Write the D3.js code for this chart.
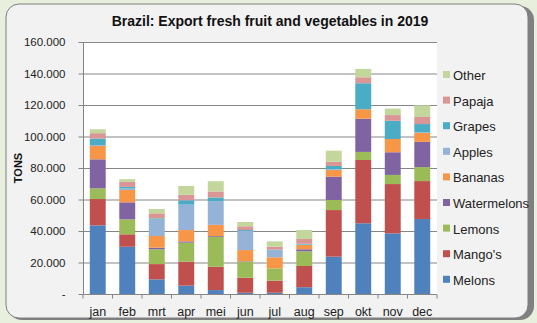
<!DOCTYPE html>
<html lang="en">
<head>
  <script src="https://d3js.org/d3.v7.min.js"></script>
  <style>
    body { margin: 0; background: #e8efdc; }
    svg { display: block; font-family: Arial, "Liberation Sans", sans-serif; }
  </style>
</head>
<body>
<svg width="537" height="323"></svg>
<script>
  // months (Dutch abbreviations) and series, bottom of the stack first
  var months = ["jan", "feb", "mrt", "apr", "mei", "jun", "jul", "aug", "sep", "okt", "nov", "dec"];
  var series = ["Melons", "Mango's", "Lemons", "Watermelons", "Bananas", "Apples", "Grapes", "Papaja", "Other"];
  var colors = ["#4f81bd", "#c0504d", "#9bbb59", "#8064a2", "#f79646", "#95b3d7", "#4bacc6", "#d99694", "#c3d69b"];
  var yTicks = [0, 20000, 40000, 60000, 80000, 100000, 120000, 140000, 160000];

  // tons per month
  var melons      = [43600, 30000,  9300,  5300,  2500,   800,   800,  4300, 23700, 44900, 38500, 47600];
  var mangos      = [16700,  7900,  9700, 15200, 14800,  9500,  7700, 13500, 29600, 40200, 31300, 24100];
  var lemons      = [ 6800,  9500,  9400, 12100, 19000, 10200,  7800,  9300,  6400,  5100,  5800,  8900];
  var watermelons = [18400, 10800,  1000,   800,   500,   300,     0,  1300, 14800, 21100, 14400, 16000];
  var bananas     = [ 8500,  7800,  7400,  7200,  7100,  7100,  7000,  2700,  4200,  6000,  8400,  5700];
  var apples      = [  500,  1000, 10400, 16100, 15100, 12100,  4600,   300,   500,     0,     0,   300];
  var grapes      = [ 4200,  1000,   800,  2800,  2300,   600,   300,   500,  2100, 16500, 11600,  5300];
  var papaja      = [ 3400,  3200,  3200,  3500,  3800,  2400,  1800,  3000,  2700,  3800,  3600,  4500];
  var other       = [ 2500,  1700,  2800,  5600,  6500,  2700,  3400,  5700,  7000,  5300,  4100,  7400];

  var values = [melons, mangos, lemons, watermelons, bananas, apples, grapes, papaja, other];

  var table = months.map(function(m, i) {
    var row = { month: m };
    series.forEach(function(s, k) { row[s] = values[k][i]; });
    return row;
  });

  var svg = d3.select("svg");

  // rounded panel with a dark edge on the right
  svg.append("rect").attr("x", 8).attr("y", 6).attr("width", 526).attr("height", 314)
     .attr("rx", 14).attr("fill", "#808080");
  svg.append("rect").attr("x", 6).attr("y", 4).attr("width", 522).attr("height", 314)
     .attr("rx", 13).attr("fill", "#f2f2f2").attr("stroke", "#7f7f7f").attr("stroke-width", 1);

  var plotLeft = 83, plotRight = 437, plotTop = 42, plotBottom = 294;

  var x = d3.scaleBand().domain(months).range([plotLeft, plotRight]).paddingInner(0.46).paddingOuter(0.23);
  var xb = d3.scaleBand().domain(months).range([plotLeft, plotRight]);
  var y = d3.scaleLinear().domain([0, 160000]).range([plotBottom, plotTop]);

  svg.append("rect").attr("x", plotLeft).attr("y", plotTop)
     .attr("width", plotRight - plotLeft).attr("height", plotBottom - plotTop)
     .attr("fill", "#ffffff");

  // gridlines
  svg.append("g").selectAll("line").data(yTicks.slice(1)).enter().append("line")
     .attr("x1", plotLeft).attr("x2", plotRight)
     .attr("y1", function(d) { return y(d) + 0.5; }).attr("y2", function(d) { return y(d) + 0.5; })
     .attr("stroke", "#868686").attr("stroke-width", 1);

  var stack = d3.stack().keys(series)(table);

  svg.append("g").selectAll("g").data(stack).enter().append("g")
     .attr("fill", function(d, i) { return colors[i]; })
     .selectAll("rect").data(function(d) { return d; }).enter().append("rect")
     .attr("x", function(d) { return x(d.data.month); })
     .attr("width", x.bandwidth())
     .attr("y", function(d) { return y(d[1]); })
     .attr("height", function(d) { return y(d[0]) - y(d[1]); });

  // y axis
  var yAxis = svg.append("g").attr("transform", "translate(" + (plotLeft + 0.5) + ",0)")
     .call(d3.axisLeft(y).tickValues(yTicks).tickSize(5).tickPadding(13)
       .tickFormat(function(d) { return d === 0 ? "-" : d3.format(",")(d).replace(/,/g, "."); }));
  yAxis.select(".domain").attr("stroke", "#868686").attr("d", "M0," + plotTop + "V" + plotBottom);
  yAxis.selectAll(".tick line").attr("stroke", "#868686");
  yAxis.selectAll("text").attr("font-size", 11.5).attr("fill", "#222");

  // x axis with ticks on band edges
  var xg = svg.append("g").attr("transform", "translate(0," + (plotBottom + 0.5) + ")");
  xg.append("line").attr("x1", plotLeft).attr("x2", plotRight).attr("stroke", "#868686");
  xg.selectAll(".edge").data(months.concat(["end"])).enter().append("line")
     .attr("x1", function(d, i) { return plotLeft + i * xb.bandwidth(); })
     .attr("x2", function(d, i) { return plotLeft + i * xb.bandwidth(); })
     .attr("y1", 0).attr("y2", 4).attr("stroke", "#868686");
  xg.selectAll("text").data(months).enter().append("text")
     .attr("x", function(d) { return xb(d) + xb.bandwidth() / 2; })
     .attr("y", 21).attr("text-anchor", "middle")
     .attr("font-size", 12.5).attr("fill", "#222").text(function(d) { return d; });

  // title and axis label
  svg.append("text").attr("x", 270).attr("y", 26).attr("text-anchor", "middle")
     .attr("font-size", 14).attr("font-weight", "bold").attr("fill", "#111")
     .text("Brazil: Export fresh fruit and vegetables in 2019");

  svg.append("text").attr("transform", "translate(22,168) rotate(-90)")
     .attr("text-anchor", "middle").attr("font-size", 11).attr("font-weight", "bold")
     .attr("fill", "#111").text("TONS");

  // legend, top entry is the last series
  var legend = svg.append("g").selectAll("g").data(series.slice().reverse()).enter().append("g")
     .attr("transform", function(d, i) { return "translate(443," + (75 + i * 25.6) + ")"; });
  legend.append("rect").attr("x", 0).attr("y", -4).attr("width", 7).attr("height", 7)
     .attr("fill", function(d) { return colors[series.indexOf(d)]; });
  legend.append("text").attr("x", 10).attr("y", 5).attr("font-size", 13).attr("fill", "#222")
     .text(function(d) { return d; });
</script>
</body>
</html>
